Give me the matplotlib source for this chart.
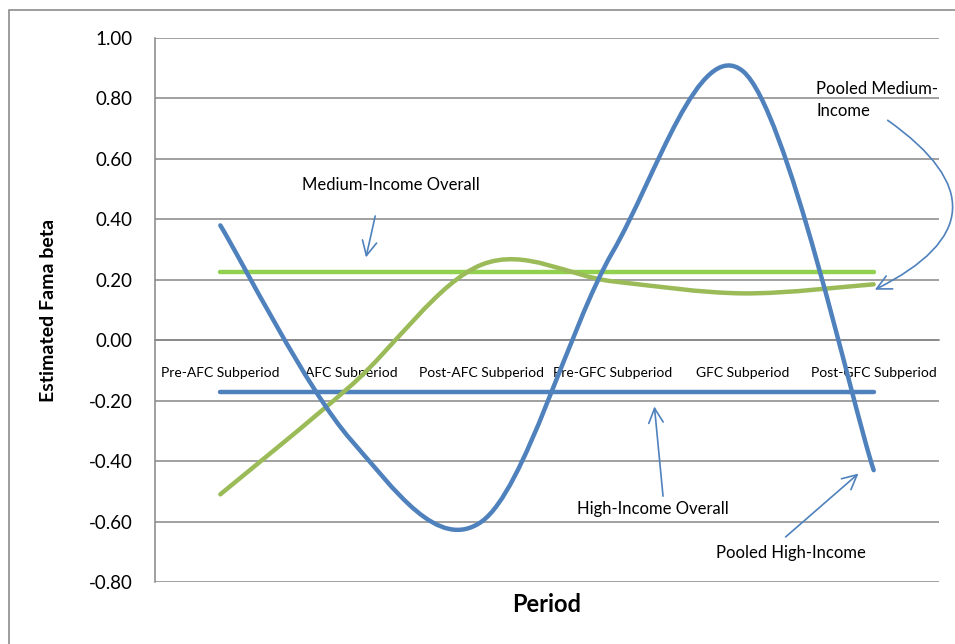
import matplotlib
matplotlib.use("Agg")
import numpy as np
import matplotlib.pyplot as plt
from matplotlib.path import Path
from matplotlib.patches import PathPatch, Rectangle

# 数据
periods = ["Pre-AFC Subperiod", "AFC Subperiod", "Post-AFC Subperiod",
           "Pre-GFC Subperiod", "GFC Subperiod", "Post-GFC Subperiod"]
pooled_high = [0.38, -0.33, -0.60, 0.29, 0.89, -0.43]
pooled_medium = [-0.51, -0.15, 0.25, 0.195, 0.155, 0.185]
high_overall = -0.171
medium_overall = 0.226
yticks = [1.0, 0.8, 0.6, 0.4, 0.2, 0.0, -0.2, -0.4, -0.6, -0.8]

BLUE = "#4F81BD"
GREEN = "#9BBB59"
LIGHT_GREEN = "#92D050"
GRID = "#868686"
FONT = "Lato"


def smooth_path(xs, ys):
    # Excel 风格平滑线 (Catmull-Rom -> Bezier)
    pts = np.column_stack([xs, ys]).astype(float)
    ext = np.vstack([pts[0], pts, pts[-1]])
    verts = [tuple(pts[0])]
    codes = [Path.MOVETO]
    for i in range(1, len(ext) - 2):
        p0, p1, p2, p3 = ext[i - 1], ext[i], ext[i + 1], ext[i + 2]
        c1 = p1 + (p2 - p0) / 6.0
        c2 = p2 - (p3 - p1) / 6.0
        verts += [tuple(c1), tuple(c2), tuple(p2)]
        codes += [Path.CURVE4] * 3
    return Path(verts, codes)


fig = plt.figure(figsize=(9.55, 6.44), dpi=100)
ax = fig.add_axes([155 / 955, 1 - 582 / 644, (939 - 155) / 955, (582 - 38) / 644])

x = np.arange(len(periods))

# 外框
fig.patches.append(Rectangle((8.5 / 955, -0.1), 1.2, 1 - 10 / 644 + 0.1,
                             transform=fig.transFigure, fill=False,
                             edgecolor="#8c8c8c", linewidth=1.2))

# 水平线
ax.plot([x[0], x[-1]], [medium_overall] * 2, color=LIGHT_GREEN, lw=3.2,
        solid_capstyle="round", zorder=3)
ax.plot([x[0], x[-1]], [high_overall] * 2, color=BLUE, lw=3.2,
        solid_capstyle="round", zorder=3)

# 平滑曲线
ax.add_patch(PathPatch(smooth_path(x, pooled_medium), facecolor="none",
                       edgecolor=GREEN, lw=3.2, capstyle="round", zorder=4))
ax.add_patch(PathPatch(smooth_path(x, pooled_high), facecolor="none",
                       edgecolor=BLUE, lw=3.2, capstyle="round", zorder=5))

ax.set_xlim(-0.5, len(periods) - 0.5)
ax.set_ylim(-0.8, 1.0)
ax.set_yticks(yticks)
ax.set_yticklabels([f"{v:.2f}" for v in yticks], fontsize=13.5, family=FONT)
ax.yaxis.grid(True, color=GRID, lw=1.1)
ax.set_axisbelow(True)
ax.tick_params(axis="y", length=0, pad=16)

ax.spines["top"].set_visible(False)
ax.spines["right"].set_visible(False)
ax.spines["left"].set_color(GRID)
ax.spines["left"].set_linewidth(1.1)
ax.spines["bottom"].set_position(("data", 0))
ax.spines["bottom"].set_color(GRID)
ax.spines["bottom"].set_linewidth(1.1)

ax.set_xticks(x)
ax.set_xticklabels(periods, fontsize=10, family=FONT)
ax.tick_params(axis="x", length=0, pad=19)

ax.set_ylabel("Estimated Fama beta", fontsize=14, fontweight="bold", family=FONT,
              labelpad=0)
ax.yaxis.set_label_coords(-0.125, 0.5)
fig.text(547 / 955, 1 - 604 / 644, "Period", fontsize=17, fontweight="bold",
         family=FONT, ha="center", va="center")

# 注释箭头
arrow = dict(arrowstyle="->", color=BLUE, lw=1.2, mutation_scale=26)
ax.annotate("", xy=(1.11, 0.265), xytext=(1.19, 0.42), arrowprops=arrow)
ax.text(0.625, 0.515, "Medium-Income Overall", fontsize=12, family=FONT,
        va="center")
ax.annotate("", xy=(3.32, -0.21), xytext=(3.39, -0.525), arrowprops=arrow)
ax.text(2.73, -0.56, "High-Income Overall", fontsize=12, family=FONT,
        va="center")
ax.annotate("", xy=(4.9, -0.435), xytext=(4.31, -0.657), arrowprops=arrow)
ax.text(3.79, -0.705, "Pooled High-Income", fontsize=12, family=FONT,
        va="center")
ax.annotate("", xy=(4.99, 0.163), xytext=(5.09, 0.733), annotation_clip=False,
            arrowprops=dict(arrowstyle="->", color=BLUE, lw=1.2, mutation_scale=26,
                            connectionstyle="arc3,rad=-0.85"))
ax.text(4.56, 0.795, "Pooled Medium-\nIncome", fontsize=12, family=FONT,
        va="center", linespacing=1.5)

fig.savefig("out.png", dpi=100)
